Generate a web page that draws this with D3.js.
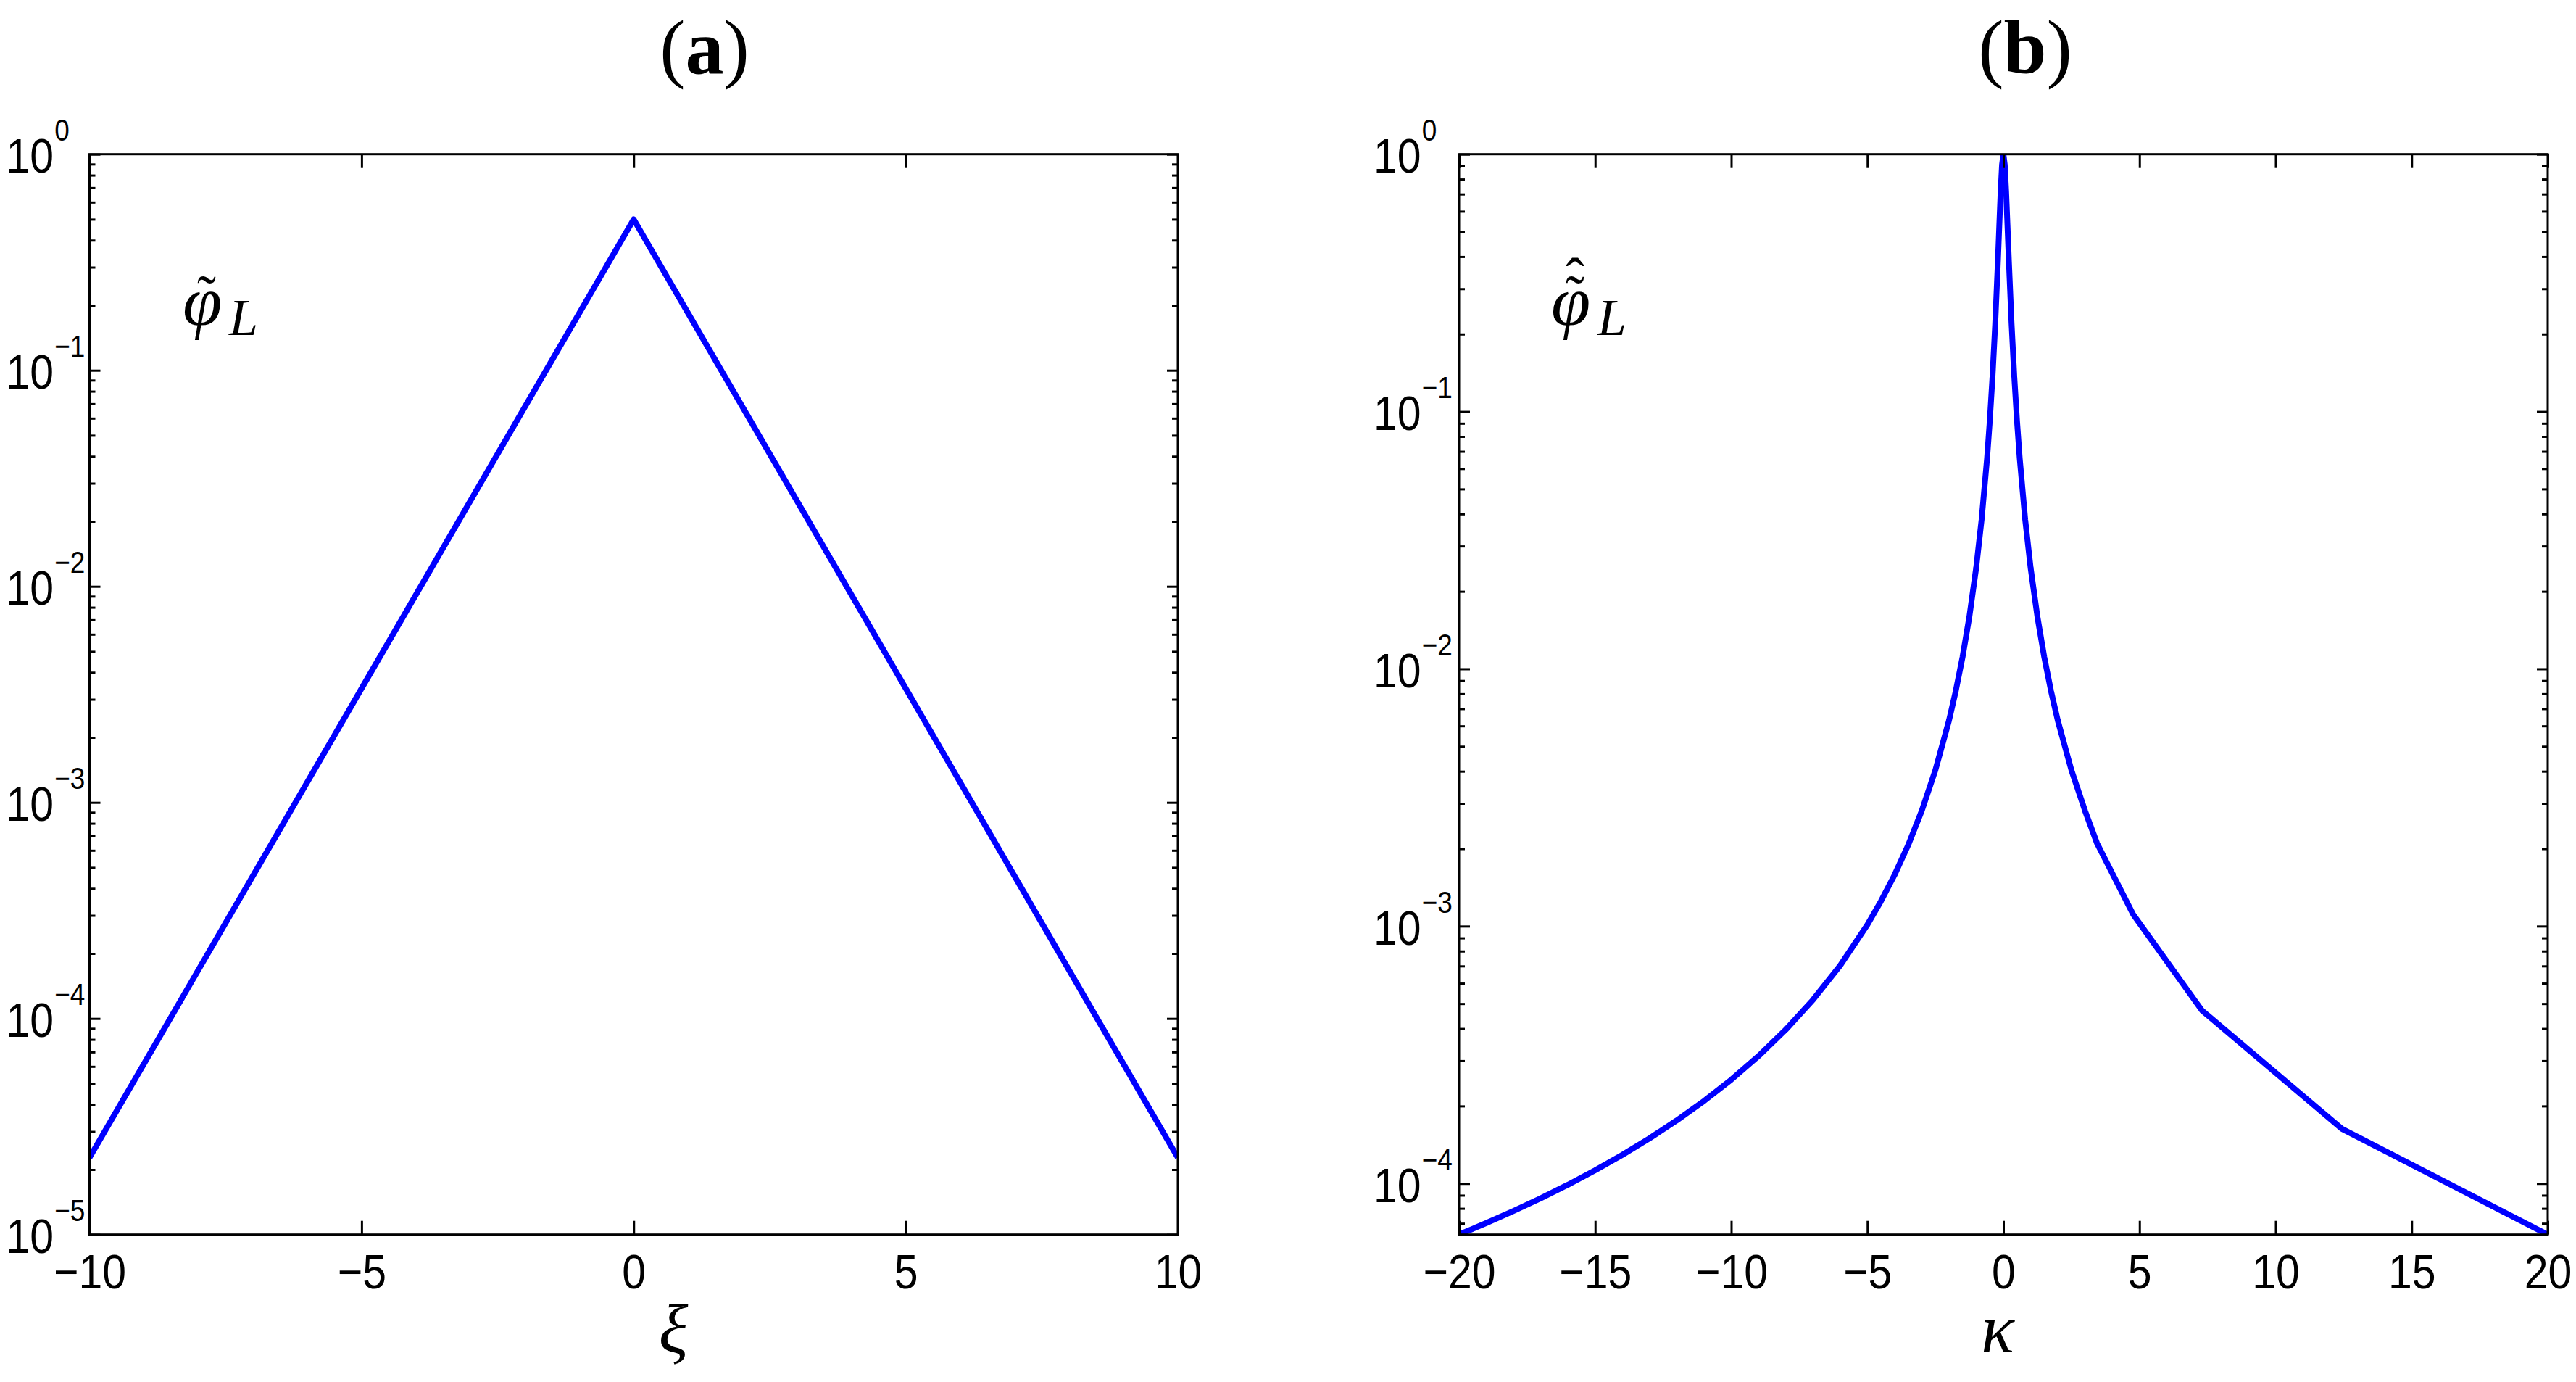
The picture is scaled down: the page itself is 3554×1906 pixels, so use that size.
<!DOCTYPE html>
<html>
<head>
<meta charset="utf-8">
<script src="https://cdn.jsdelivr.net/npm/d3@7"></script>
<style>
  body { margin: 0; background: #fff; }
  svg { display: block; }
</style>
</head>
<body>
<div id="container"></div>
<script>
// values
var xiValues = [-10, 0, 10];
var phiValues = [2.27e-5, 0.5, 2.27e-5];

var kappaValues = [-20, -19, -18, -17, -16, -15, -14, -13, -12, -11, -10, -9, -8, -7, -6, -5,
  -4.5, -4, -3.5, -3, -2.5, -2, -1.75, -1.5, -1.25, -1, -0.8, -0.6, -0.5, -0.4, -0.3, -0.2,
  -0.15, -0.1, -0.05, 0,
  0.05, 0.1, 0.15, 0.2, 0.3, 0.4, 0.5, 0.6, 0.8, 1, 1.25, 1.5, 1.75, 2, 2.5, 3,
  3.44, 4.77, 7.30, 12.44, 20];
var phiHatValues = [6.33e-5, 7.02e-5, 7.82e-5, 8.76e-5, 9.89e-5, 1.126e-4, 1.292e-4, 1.499e-4,
  1.759e-4, 2.093e-4, 2.532e-4, 3.126e-4, 3.957e-4, 5.168e-4, 7.03e-4, 1.012e-3,
  1.250e-3, 1.581e-3, 2.064e-3, 2.807e-3, 4.037e-3, 6.29e-3, 8.20e-3, 1.113e-2, 1.595e-2,
  2.470e-2, 3.807e-2, 6.57e-2, 9.20e-2, 0.1367, 0.2196, 0.3877, 0.5296, 0.717, 0.910, 1,
  0.910, 0.717, 0.5296, 0.3877, 0.2196, 0.1367, 9.20e-2, 6.57e-2, 3.807e-2, 2.470e-2,
  1.595e-2, 1.113e-2, 8.20e-3, 6.29e-3, 4.037e-3, 2.807e-3,
  2.10e-3, 1.11e-3, 4.70e-4, 1.63e-4, 6.33e-5];

var xiTicks = [-10, -5, 0, 5, 10];
var kappaTicks = [-20, -15, -10, -5, 0, 5, 10, 15, 20];
var phiDecades = [1e-5, 1e-4, 1e-3, 1e-2, 1e-1, 1];
var phiHatDecades = [1e-4, 1e-3, 1e-2, 1e-1, 1];

var W = 3554, H = 1906;

var svg = d3.select("#container")
  .append("svg")
  .attr("width", W)
  .attr("height", H)
  .attr("viewBox", "0 0 " + W + " " + H);

var sansFont = "'Liberation Sans', Arial, Helvetica, sans-serif";
var serifFont = "'Liberation Serif', 'Times New Roman', serif";

var top0 = 212.7, bottom0 = 1702.7;
var squeeze = "scale(0.88,1)"; // the tick font of the original is narrower than Arial

function minus(v) {
  return String(v).replace("-", "\u2212");
}

function drawPanel(p) {
  var g = svg.append("g").attr("id", p.id);

  var x = d3.scaleLinear().domain(p.xDomain).range([p.left, p.right]);
  var y = d3.scaleLog().domain(p.yDomain).range([bottom0, top0]);

  // clip so the thick line stops at the box
  g.append("clipPath").attr("id", "clip-" + p.id)
    .append("rect")
    .attr("x", p.left).attr("y", top0)
    .attr("width", p.right - p.left).attr("height", bottom0 - top0);

  var pts = p.xs.map(function(v, i) { return { x: v, y: p.ys[i] }; });

  var line = d3.line()
    .x(function(d) { return x(d.x); })
    .y(function(d) { return y(d.y); });

  g.append("path")
    .datum(pts)
    .attr("clip-path", "url(#clip-" + p.id + ")")
    .attr("d", line)
    .attr("fill", "none")
    .attr("stroke", "#0000ff")
    .attr("stroke-width", 8)
    .attr("stroke-linejoin", "round");

  // x axes, ticks inward
  var xb = g.append("g")
    .attr("transform", "translate(0," + bottom0 + ")")
    .call(d3.axisBottom(x).tickValues(p.xTicks).tickSize(-19).tickSizeOuter(0)
      .tickPadding(27).tickFormat(minus));
  var xt = g.append("g")
    .attr("transform", "translate(0," + top0 + ")")
    .call(d3.axisTop(x).tickValues(p.xTicks).tickSize(-19).tickSizeOuter(0).tickFormat(""));

  // y axes: minor ticks
  var minors = y.ticks().filter(function(t) {
    return p.decades.indexOf(t) < 0 && t >= p.yDomain[0] && t <= p.yDomain[1];
  });
  var yl = g.append("g")
    .attr("transform", "translate(" + p.left + ",0)")
    .call(d3.axisLeft(y).tickValues(minors).tickSize(-8).tickSizeOuter(0).tickFormat(""));
  var yr = g.append("g")
    .attr("transform", "translate(" + p.right + ",0)")
    .call(d3.axisRight(y).tickValues(minors).tickSize(-8).tickSizeOuter(0).tickFormat(""));
  // y axes: decades
  var ylm = g.append("g")
    .attr("transform", "translate(" + p.left + ",0)")
    .call(d3.axisLeft(y).tickValues(p.decades).tickSize(-15).tickSizeOuter(0).tickFormat(""));
  var yrm = g.append("g")
    .attr("transform", "translate(" + p.right + ",0)")
    .call(d3.axisRight(y).tickValues(p.decades).tickSize(-15).tickSizeOuter(0).tickFormat(""));

  [xb, xt, yl, yr, ylm, yrm].forEach(function(a) {
    a.selectAll("path.domain").remove();
    a.selectAll("line").attr("stroke", "#000").attr("stroke-width", 3);
  });

  xb.selectAll("text")
    .attr("font-family", sansFont)
    .attr("font-size", 67)
    .attr("fill", "#000")
    .attr("transform", squeeze);

  // decade labels 10^n, base and exponent in one text
  ylm.selectAll(".tick").each(function(d) {
    var e = Math.round(Math.log10(d));
    var lab = d3.select(this).append("g")
      .attr("transform", "translate(" + p.labelX + ",25) " + squeeze)
      .append("text")
      .attr("text-anchor", "start")
      .attr("font-family", sansFont)
      .attr("fill", "#000");
    lab.append("tspan")
      .attr("x", -74).attr("y", 0)
      .attr("font-size", 67)
      .text("10");
    lab.append("tspan")
      .attr("x", 2).attr("y", -44)
      .attr("font-size", 42)
      .text(minus(e));
  });

  // box
  g.append("rect")
    .attr("x", p.left).attr("y", top0)
    .attr("width", p.right - p.left).attr("height", bottom0 - top0)
    .attr("fill", "none")
    .attr("stroke", "#000")
    .attr("stroke-width", 3);

  // title
  var title = g.append("text")
    .attr("x", p.titleX).attr("y", 101)
    .attr("text-anchor", "middle")
    .attr("font-family", serifFont)
    .attr("font-size", 106)
    .attr("fill", "#000");
  title.append("tspan").text("(");
  title.append("tspan").attr("font-weight", "bold").text(p.letter);
  title.append("tspan").text(")");

  // x label
  g.append("text")
    .attr("x", p.xLabelX).attr("y", 1865)
    .attr("text-anchor", "middle")
    .attr("font-family", serifFont)
    .attr("font-style", "italic")
    .attr("font-size", 95)
    .attr("fill", "#000")
    .text(p.xLabel);

  // curve name, with its accents, as one text
  var name = g.append("text")
    .attr("font-family", serifFont)
    .attr("fill", "#000");
  name.append("tspan")
    .attr("x", p.nameX).attr("y", 448)
    .attr("font-style", "italic")
    .attr("font-size", 98)
    .text("\u03c6");
  name.append("tspan")
    .attr("x", p.nameX + 64).attr("y", 462)
    .attr("font-style", "italic")
    .attr("font-size", 72)
    .text("L");
  name.append("tspan")
    .attr("x", p.nameX + 20).attr("y", 434)
    .attr("font-size", 78)
    .text("\u02dc");
  if (p.hat) {
    name.append("tspan")
      .attr("x", p.nameX + 20).attr("y", 410)
      .attr("font-size", 78)
      .text("\u02c6");
  }
}

drawPanel({
  id: "a", letter: "a",
  left: 123.5, right: 1625,
  xDomain: [-10, 10], yDomain: [1e-5, 1],
  xs: xiValues, ys: phiValues,
  xTicks: xiTicks, decades: phiDecades,
  labelX: -50,
  titleX: 972, xLabelX: 929, xLabel: "\u03be",
  nameX: 252, hat: false
});

drawPanel({
  id: "b", letter: "b",
  left: 2013, right: 3515,
  xDomain: [-20, 20], yDomain: [6.33e-5, 1],
  xs: kappaValues, ys: phiHatValues,
  xTicks: kappaTicks, decades: phiHatDecades,
  labelX: -53,
  titleX: 2794, xLabelX: 2756, xLabel: "\u03ba",
  nameX: 2140, hat: true
});
</script>
</body>
</html>
